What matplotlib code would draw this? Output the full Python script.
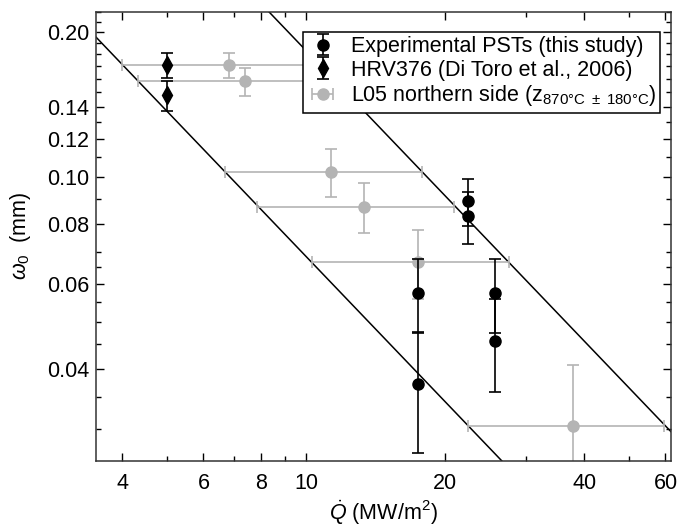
import matplotlib
matplotlib.use('Agg')
import matplotlib.pyplot as plt
from matplotlib.ticker import FixedLocator, FixedFormatter, NullFormatter

# Experimental PSTs (this study)
exp_q = [17.5, 17.5, 22.4, 22.4, 25.6, 25.6]
exp_w = [0.0575, 0.0373, 0.0892, 0.0829, 0.0575, 0.0458]
exp_err = [0.0100, 0.0105, 0.0100, 0.0103, 0.0100, 0.0100]

# HRV376 (Di Toro et al., 2006)
hrv_q = [5.0, 5.0]
hrv_w = [0.1705, 0.1477]
hrv_err = [0.0102, 0.0104]

# L05 northern side
l05_q = [6.82, 7.38, 11.33, 13.36, 17.5, 37.9]
l05_w = [0.1705, 0.158, 0.1026, 0.0868, 0.0668, 0.0305]
l05_q_lo = [3.99, 4.33, 6.68, 7.84, 10.29, 22.4]
l05_q_hi = [10.7, 11.6, 17.8, 20.96, 27.5, 59.7]
l05_werr = [0.010, 0.0105, 0.0115, 0.0103, 0.011, 0.0103]

# w0 = c / Q reference lines
line_c = [0.685, 1.83]
line_q = [3.0, 70.0]

x_ticks = [4, 6, 8, 10, 20, 40, 60]
y_ticks = [0.04, 0.06, 0.08, 0.10, 0.12, 0.14, 0.20]
y_tick_labels = ['0.04', '0.06', '0.08', '0.10', '0.12', '0.14', '0.20']
x_minor = [5, 7, 9, 30, 50]
y_minor = [0.03, 0.035, 0.045, 0.05, 0.055, 0.065, 0.07, 0.09, 0.11, 0.13,
           0.15, 0.16, 0.17, 0.18, 0.19, 0.21, 0.22]

GREY = '#b4b4b4'
FS = 15.5


def init():
    plt.rcParams['font.family'] = ['Liberation Sans', 'DejaVu Sans']
    plt.rcParams['mathtext.fontset'] = 'custom'
    plt.rcParams['mathtext.rm'] = 'Liberation Sans'
    plt.rcParams['mathtext.it'] = 'Liberation Sans:italic'
    plt.rcParams['mathtext.bf'] = 'Liberation Sans:bold'

    fig = plt.figure(figsize=(6.9, 5.28), dpi=100)
    ax = fig.add_axes([0.139, 0.127, 0.834, 0.851])
    ax.set_xscale('log')
    ax.set_yscale('log')

    for c in line_c:
        ax.plot(line_q, [c / q for q in line_q], color='black', lw=1.1, zorder=1)

    # grey data: horizontal bars with legend, vertical bars without
    xerr = [[q - lo for q, lo in zip(l05_q, l05_q_lo)],
            [hi - q for q, hi in zip(l05_q, l05_q_hi)]]
    ax.errorbar(l05_q, l05_w, yerr=l05_werr, fmt='none', ecolor=GREY,
                elinewidth=1.2, capsize=4.5, capthick=1.2, zorder=2)
    ax.errorbar(l05_q, l05_w, xerr=xerr, fmt='o', color=GREY, ms=8,
                elinewidth=1.2, capsize=4, capthick=1.2, zorder=2,
                label=r'L05 northern side ($\mathregular{z_{870°C\ \pm\ 180°C}}$)')

    ax.errorbar(exp_q, exp_w, yerr=exp_err, fmt='o', color='black', ms=8,
                elinewidth=1.2, capsize=4.5, capthick=1.2, zorder=3,
                label='Experimental PSTs (this study)')
    ax.errorbar(hrv_q, hrv_w, yerr=hrv_err, fmt='d', color='black', ms=9,
                elinewidth=1.2, capsize=4.5, capthick=1.2, zorder=3,
                label='HRV376 (Di Toro et al., 2006)')

    ax.set_xlim(3.51, 61.8)
    ax.set_ylim(0.0258, 0.2203)

    ax.xaxis.set_major_locator(FixedLocator(x_ticks))
    ax.xaxis.set_major_formatter(FixedFormatter([str(t) for t in x_ticks]))
    ax.xaxis.set_minor_locator(FixedLocator(x_minor))
    ax.xaxis.set_minor_formatter(NullFormatter())
    ax.yaxis.set_major_locator(FixedLocator(y_ticks))
    ax.yaxis.set_major_formatter(FixedFormatter(y_tick_labels))
    ax.yaxis.set_minor_locator(FixedLocator(y_minor))
    ax.yaxis.set_minor_formatter(NullFormatter())
    ax.tick_params(which='both', direction='in', top=True, right=True,
                   labelsize=FS, width=1)
    ax.tick_params(axis='x', which='major', pad=9)
    ax.tick_params(axis='y', which='major', pad=5)
    ax.tick_params(which='major', length=6)
    ax.tick_params(which='minor', length=3.5)
    for s in ax.spines.values():
        s.set_linewidth(1.1)
        s.set_color('#333333')

    ax.set_xlabel(r'$\dot{Q}$ (MW/m$^2$)', fontsize=FS, labelpad=3)
    ax.set_ylabel(r'$\omega_0$  (mm)', fontsize=FS, labelpad=10)

    handles, labels = ax.get_legend_handles_labels()
    order = [1, 2, 0]
    leg = ax.legend([handles[i] for i in order], [labels[i] for i in order],
                    loc='upper right', bbox_to_anchor=(0.981, 0.955),
                    fontsize=FS, fancybox=False, framealpha=1,
                    edgecolor='black', borderpad=0.2, labelspacing=0.12,
                    handlelength=1.4, handletextpad=0.6, borderaxespad=0)
    leg.get_frame().set_linewidth(1.1)

    plt.savefig('out.png', dpi=100)


if __name__ == '__main__':
    init()
